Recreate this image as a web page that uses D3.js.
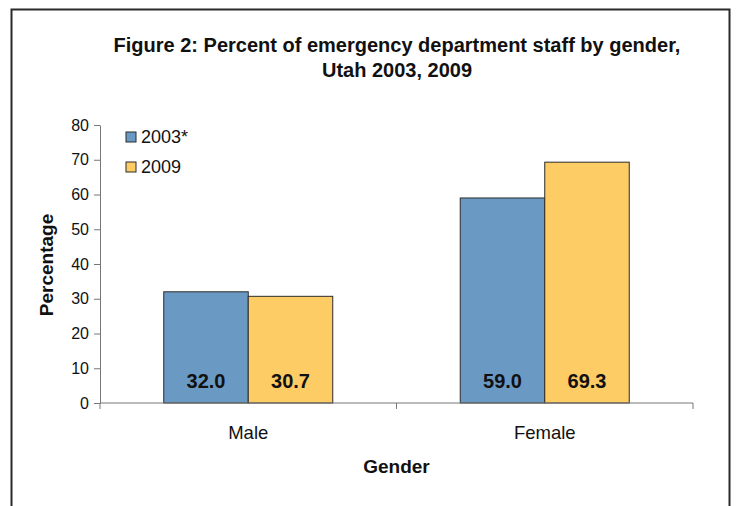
<!DOCTYPE html>
<html>
<head>
<meta charset="utf-8">
<script src="https://cdn.jsdelivr.net/npm/d3@7"></script>
<style>
  body { margin: 0; background: #fff; }
  text { font-family: "Liberation Sans", Arial, sans-serif; fill: #111; }
</style>
</head>
<body>
<svg width="736" height="506"></svg>
<script>
var categories = ["Male", "Female"];
var seriesNames = ["2003*", "2009"];
var values2003 = [32.0, 59.0];
var values2009 = [30.7, 69.3];
var yTicks = [0, 10, 20, 30, 40, 50, 60, 70, 80];

var colors = ["#6a9ac3", "#fdcc65"];

var svg = d3.select("svg"),
    margin = {top: 125, right: 43, bottom: 103, left: 100},
    width = 736 - margin.left - margin.right,
    height = 506 - margin.top - margin.bottom;

// frame
svg.append("rect")
    .attr("x", 11.5).attr("y", 9.5)
    .attr("width", 718).attr("height", 500)
    .attr("fill", "none")
    .attr("stroke", "#2a2a2a")
    .attr("stroke-width", 2);

var x0 = d3.scaleBand().domain(categories).range([0, width])
    .paddingInner(0.43).paddingOuter(0.215);
var x1 = d3.scaleBand().domain(seriesNames).range([0, x0.bandwidth()]);
var y = d3.scaleLinear().domain([0, 80]).range([height, 0]);

var g = svg.append("g")
    .attr("transform", "translate(" + margin.left + "," + margin.top + ")");

var rows = categories.map(function(c, i) {
  return {cat: c, vals: [values2003[i], values2009[i]]};
});

var groups = g.selectAll(".grp")
    .data(rows)
  .enter().append("g")
    .attr("transform", function(d) { return "translate(" + x0(d.cat) + ",0)"; });

groups.selectAll("rect")
    .data(function(d) { return d.vals.map(function(v, j) { return {s: seriesNames[j], v: v, j: j}; }); })
  .enter().append("rect")
    .attr("x", function(d) { return x1(d.s); })
    .attr("y", function(d) { return y(d.v); })
    .attr("width", x1.bandwidth())
    .attr("height", function(d) { return height - y(d.v); })
    .attr("fill", function(d) { return colors[d.j]; })
    .attr("stroke", "#2b2b2b")
    .attr("stroke-width", 1);

groups.selectAll(".lbl")
    .data(function(d) { return d.vals.map(function(v, j) { return {s: seriesNames[j], v: v}; }); })
  .enter().append("text")
    .attr("x", function(d) { return x1(d.s) + x1.bandwidth() / 2; })
    .attr("y", height - 15)
    .attr("text-anchor", "middle")
    .style("font-size", "20px")
    .style("font-weight", "bold")
    .text(function(d) { return d.v.toFixed(1); });

// y axis
var yAxis = g.append("g")
    .call(d3.axisLeft(y).tickValues(yTicks).tickSize(6).tickSizeOuter(0).tickPadding(5));
yAxis.select(".domain").attr("stroke", "#777");
yAxis.selectAll(".tick line").attr("stroke", "#777");
yAxis.selectAll("text").style("font-size", "16px").style("font-family", "Liberation Sans, Arial, sans-serif").attr("fill", "#111");

// x axis with boundary ticks
var xAxis = g.append("g")
    .attr("transform", "translate(0," + height + ")");
xAxis.append("line")
    .attr("x1", 0).attr("x2", width)
    .attr("stroke", "#777");
var bounds = [0, x0.step(), width];
xAxis.selectAll(".bt")
    .data(bounds)
  .enter().append("line")
    .attr("x1", function(d) { return d; }).attr("x2", function(d) { return d; })
    .attr("y1", 0).attr("y2", 6)
    .attr("stroke", "#777");
xAxis.selectAll(".cl")
    .data(categories)
  .enter().append("text")
    .attr("x", function(d) { return x0(d) + x0.bandwidth() / 2; })
    .attr("y", 36)
    .attr("text-anchor", "middle")
    .style("font-size", "18.5px")
    .text(function(d) { return d; });

// axis titles
g.append("text")
    .attr("x", width / 2)
    .attr("y", 70)
    .attr("transform", "translate(0," + height + ")")
    .attr("text-anchor", "middle")
    .style("font-size", "19px")
    .style("font-weight", "bold")
    .text("Gender");

svg.append("text")
    .attr("transform", "translate(53,265) rotate(-90)")
    .attr("text-anchor", "middle")
    .style("font-size", "19px")
    .style("font-weight", "bold")
    .text("Percentage");

// title
var title = svg.append("text")
    .attr("text-anchor", "middle")
    .style("font-size", "20px")
    .style("font-weight", "bold");
title.append("tspan").attr("x", 397).attr("y", 52)
    .text("Figure 2: Percent of emergency department staff by gender,");
title.append("tspan").attr("x", 397).attr("y", 77)
    .text("Utah 2003, 2009");

// legend
var legend = svg.append("g").attr("transform", "translate(126,132)");
var li = legend.selectAll(".li")
    .data(seriesNames)
  .enter().append("g")
    .attr("transform", function(d, i) { return "translate(0," + (i * 30) + ")"; });
li.append("rect")
    .attr("width", 10).attr("height", 10)
    .attr("fill", function(d, i) { return colors[i]; })
    .attr("stroke", "#2b2b2b");
li.append("text")
    .attr("x", 15).attr("y", 11)
    .style("font-size", "18px")
    .text(function(d) { return d; });
</script>
</body>
</html>
